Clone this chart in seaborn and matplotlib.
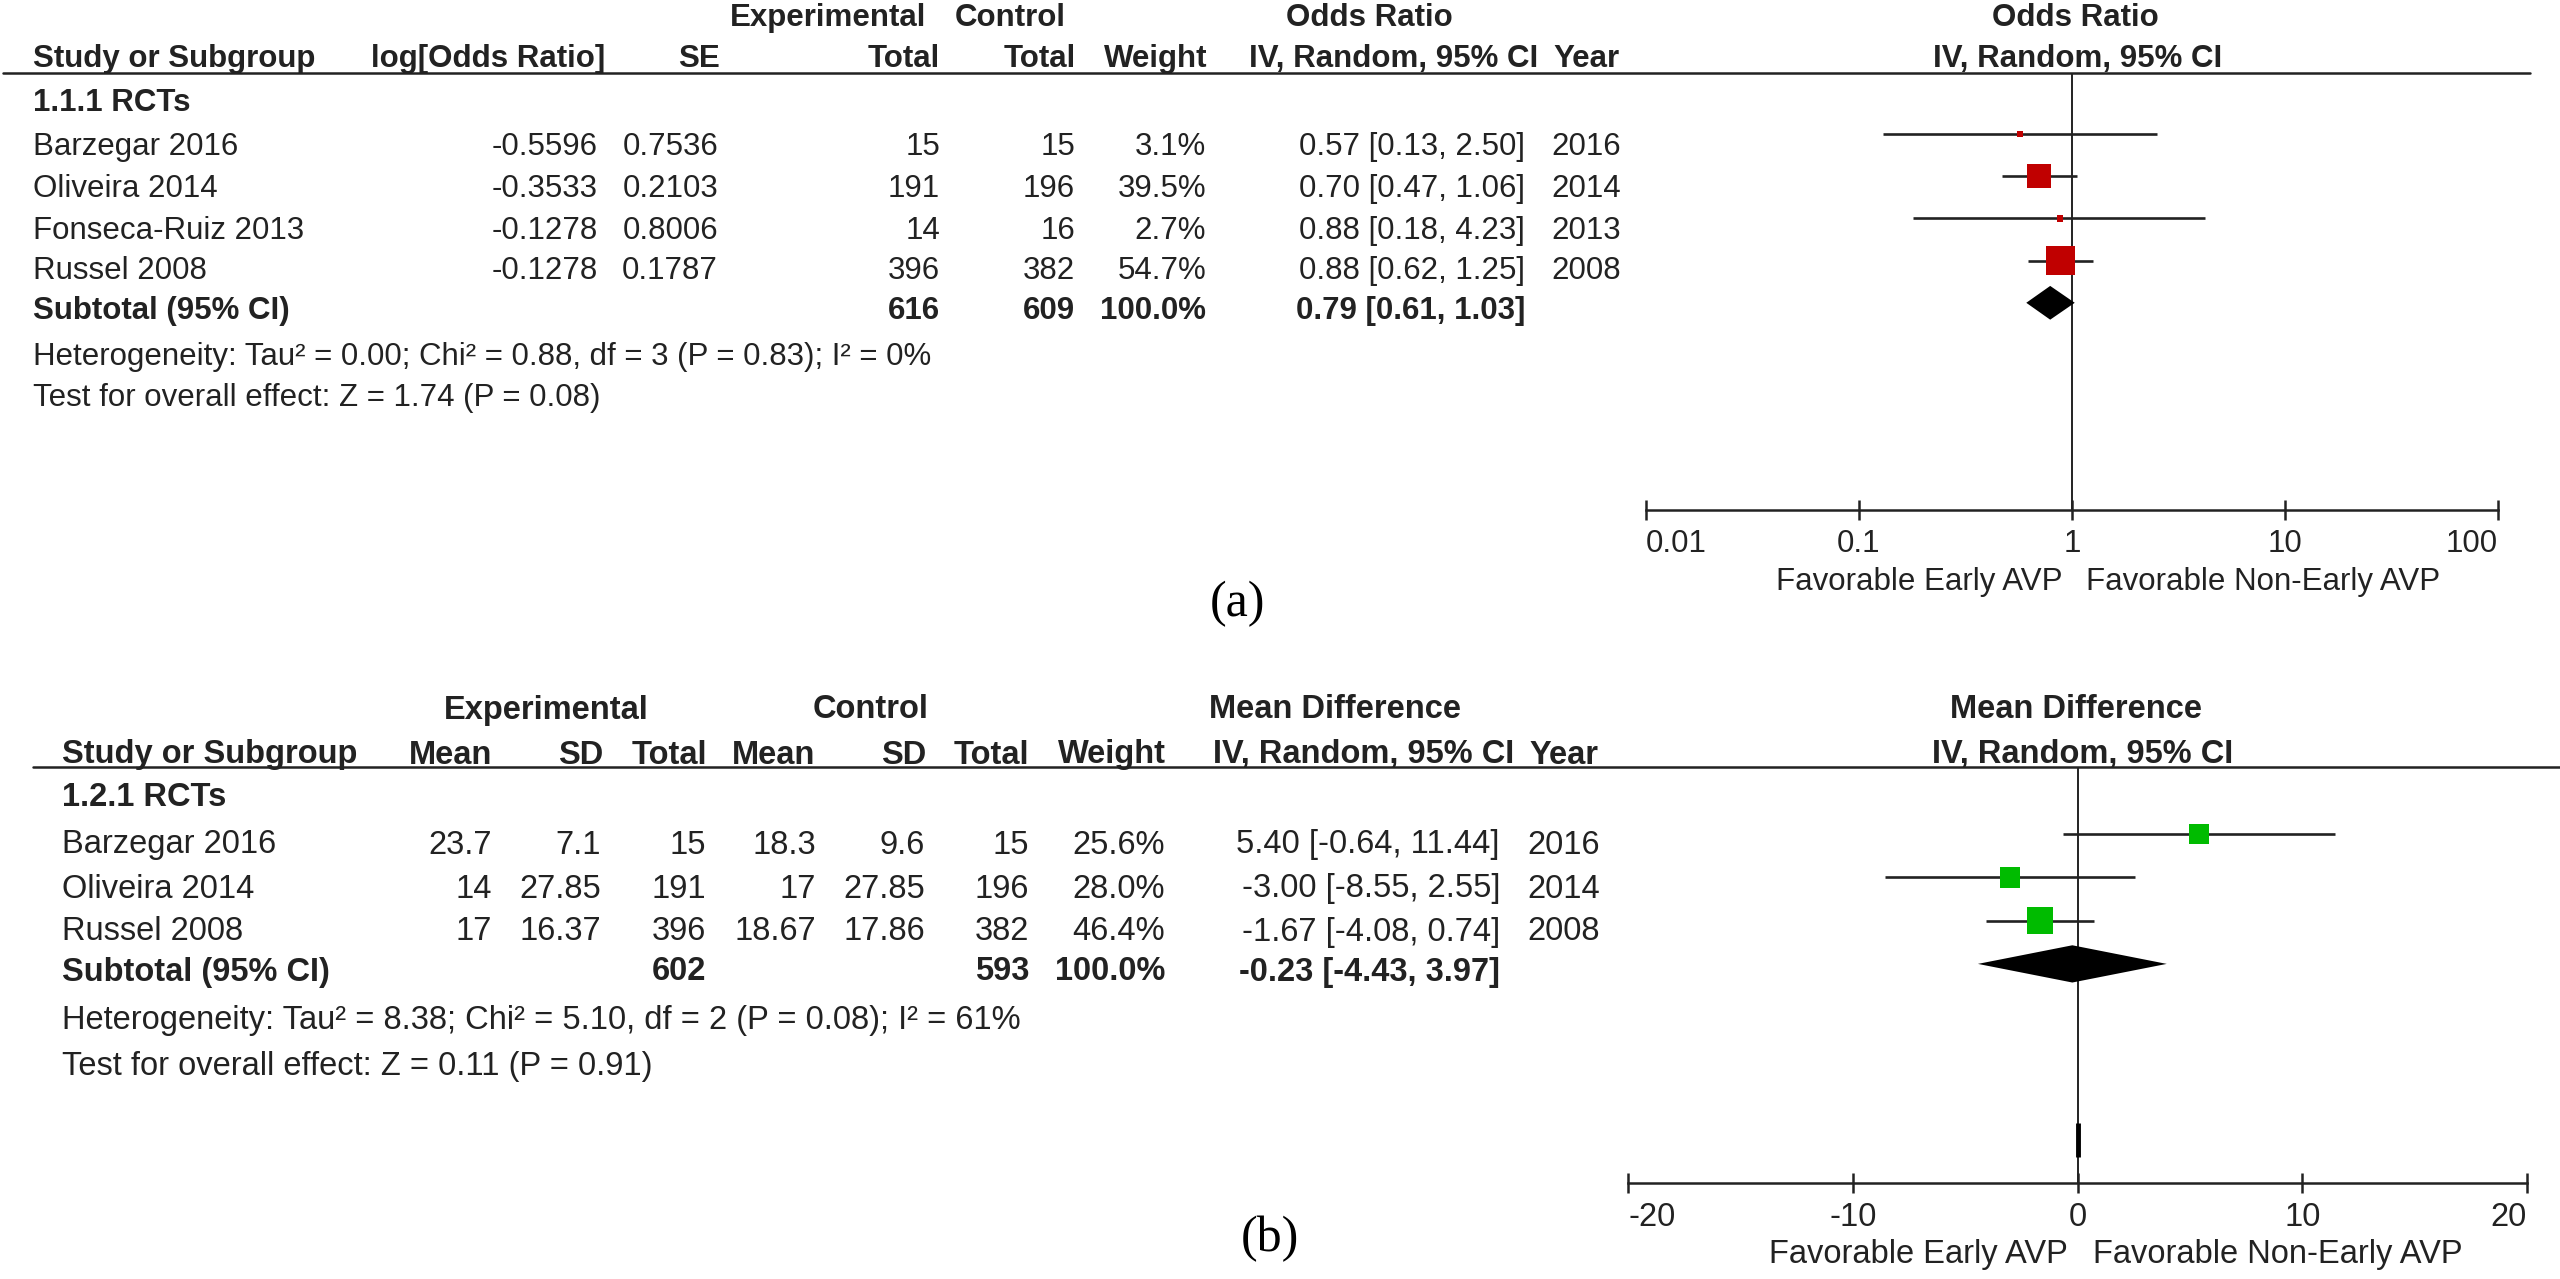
import numpy as np
import matplotlib
matplotlib.use("Agg")
import matplotlib.pyplot as plt
from matplotlib.ticker import NullLocator
import seaborn as sns

# === data: panel (a) odds ratio ===
studies_a = ["Barzegar 2016", "Oliveira 2014", "Fonseca-Ruiz 2013", "Russel 2008"]
log_or_a = [-0.5596, -0.3533, -0.1278, -0.1278]
se_a = [0.7536, 0.2103, 0.8006, 0.1787]
exp_total_a = [15, 191, 14, 396]
ctrl_total_a = [15, 196, 16, 382]
weight_a = [3.1, 39.5, 2.7, 54.7]
or_a = [0.57, 0.70, 0.88, 0.88]
or_lo_a = [0.13, 0.47, 0.18, 0.62]
or_hi_a = [2.50, 1.06, 4.23, 1.25]
year_a = [2016, 2014, 2013, 2008]
sub_a = {"exp": 616, "ctrl": 609, "est": 0.79, "lo": 0.61, "hi": 1.03}
het_a = "Heterogeneity: Tau² = 0.00; Chi² = 0.88, df = 3 (P = 0.83); I² = 0%"
test_a = "Test for overall effect: Z = 1.74 (P = 0.08)"
ticks_a = [0.01, 0.1, 1, 10, 100]
ticklabels_a = ["0.01", "0.1", "1", "10", "100"]

# === data: panel (b) mean difference ===
studies_b = ["Barzegar 2016", "Oliveira 2014", "Russel 2008"]
exp_mean_b = [23.7, 14, 17]
exp_sd_b = [7.1, 27.85, 16.37]
exp_total_b = [15, 191, 396]
ctrl_mean_b = [18.3, 17, 18.67]
ctrl_sd_b = [9.6, 27.85, 17.86]
ctrl_total_b = [15, 196, 382]
weight_b = [25.6, 28.0, 46.4]
md_b = [5.40, -3.00, -1.67]
md_lo_b = [-0.64, -8.55, -4.08]
md_hi_b = [11.44, 2.55, 0.74]
year_b = [2016, 2014, 2008]
sub_b = {"exp": 602, "ctrl": 593, "est": -0.23, "lo": -4.43, "hi": 3.97}
het_b = "Heterogeneity: Tau² = 8.38; Chi² = 5.10, df = 2 (P = 0.08); I² = 61%"
test_b = "Test for overall effect: Z = 0.11 (P = 0.91)"
ticks_b = [-20, -10, 0, 10, 20]
ticklabels_b = ["-20", "-10", "0", "10", "20"]

left_lab = "Favorable Early AVP"
right_lab = "Favorable Non-Early AVP"

# === style ===
sns.set_theme(style="white")
plt.rcParams["font.family"] = ["Liberation Sans", "DejaVu Sans"]
TXT = "#222222"
RED = "#c00000"
GREEN = "#00bb00"
W, H = 2560, 1279

fig = plt.figure(figsize=(W / 100, H / 100), dpi=100)
fig.patch.set_facecolor("white")

# overlay axes in pixel coordinates for the table text
tab = fig.add_axes([0, 0, 1, 1])
tab.set_xlim(0, W)
tab.set_ylim(H, 0)
tab.axis("off")


def put(x, y, s, ha="left", bold=False, size=22.5, **kw):
    tab.text(x, y, s, ha=ha, va="center", fontsize=size, color=TXT,
             fontweight="bold" if bold else "normal", **kw)


def ci_txt(e, lo, hi):
    return f"{e:.2f} [{lo:.2f}, {hi:.2f}]"


# ---------------- panel (a) table ----------------
fs = 22.5
put(828, 18, "Experimental", ha="center", bold=True, size=fs)
put(1010, 18, "Control", ha="center", bold=True, size=fs)
put(1369, 18, "Odds Ratio", ha="center", bold=True, size=fs)
put(2075, 18, "Odds Ratio", ha="center", bold=True, size=fs)
hdr_y = 59
put(33, hdr_y, "Study or Subgroup", bold=True, size=fs)
put(605, hdr_y, "log[Odds Ratio]", ha="right", bold=True, size=fs)
put(720, hdr_y, "SE", ha="right", bold=True, size=fs)
put(940, hdr_y, "Total", ha="right", bold=True, size=fs)
put(1076, hdr_y, "Total", ha="right", bold=True, size=fs)
put(1207, hdr_y, "Weight", ha="right", bold=True, size=fs)
put(1538, hdr_y, "IV, Random, 95% CI", ha="right", bold=True, size=fs)
put(1553, hdr_y, "Year", bold=True, size=fs)
put(2078, hdr_y, "IV, Random, 95% CI", ha="center", bold=True, size=fs)
tab.plot([3, 2530], [73, 73], color=TXT, lw=1.8)
put(33, 103, "1.1.1 RCTs", bold=True, size=fs)

rows_y_a = [147, 189, 231, 271]
for i, y in enumerate(rows_y_a):
    put(33, y, studies_a[i], size=fs)
    put(598, y, f"{log_or_a[i]:.4f}", ha="right", size=fs)
    put(718, y, f"{se_a[i]:.4f}", ha="right", size=fs)
    put(940, y, str(exp_total_a[i]), ha="right", size=fs)
    put(1075, y, str(ctrl_total_a[i]), ha="right", size=fs)
    put(1206, y, f"{weight_a[i]:.1f}%", ha="right", size=fs)
    put(1525, y, ci_txt(or_a[i], or_lo_a[i], or_hi_a[i]), ha="right", size=fs)
    put(1551, y, str(year_a[i]), size=fs)
put(33, 311, "Subtotal (95% CI)", bold=True, size=fs)
put(940, 311, str(sub_a["exp"]), ha="right", bold=True, size=fs)
put(1075, 311, str(sub_a["ctrl"]), ha="right", bold=True, size=fs)
put(1206, 311, f"{sum(weight_a):.1f}%", ha="right", bold=True, size=fs)
put(1525, 311, ci_txt(sub_a["est"], sub_a["lo"], sub_a["hi"]), ha="right", bold=True, size=fs)
put(33, 357, het_a, size=fs)
put(33, 398, test_a, size=fs)
put(2063, 582, left_lab, ha="right", size=fs)
put(2086, 582, right_lab, size=fs)
tab.text(1237, 604, "(a)", ha="center", va="center", fontsize=36,
         family=["Liberation Serif", "DejaVu Serif"], color="black")

# ---------------- panel (b) table ----------------
fb = 23.5
put(546, 710, "Experimental", ha="center", bold=True, size=fb)
put(871, 710, "Control", ha="center", bold=True, size=fb)
put(1209, 710, "Mean Difference", bold=True, size=fb)
put(2076, 710, "Mean Difference", ha="center", bold=True, size=fb)
hb = 755
put(62, hb, "Study or Subgroup", bold=True, size=fb)
put(492, hb, "Mean", ha="right", bold=True, size=fb)
put(603, hb, "SD", ha="right", bold=True, size=fb)
put(707, hb, "Total", ha="right", bold=True, size=fb)
put(815, hb, "Mean", ha="right", bold=True, size=fb)
put(926, hb, "SD", ha="right", bold=True, size=fb)
put(1029, hb, "Total", ha="right", bold=True, size=fb)
put(1166, hb, "Weight", ha="right", bold=True, size=fb)
put(1514, hb, "IV, Random, 95% CI", ha="right", bold=True, size=fb)
put(1530, hb, "Year", bold=True, size=fb)
put(2083, hb, "IV, Random, 95% CI", ha="center", bold=True, size=fb)
tab.plot([33, 2560], [767, 767], color=TXT, lw=1.8)
put(62, 797, "1.2.1 RCTs", bold=True, size=fb)

rows_y_b = [845, 889, 932]
for i, y in enumerate(rows_y_b):
    put(62, y, studies_b[i], size=fb)
    put(492, y, f"{exp_mean_b[i]:g}", ha="right", size=fb)
    put(601, y, f"{exp_sd_b[i]:g}", ha="right", size=fb)
    put(706, y, str(exp_total_b[i]), ha="right", size=fb)
    put(816, y, f"{ctrl_mean_b[i]:g}", ha="right", size=fb)
    put(925, y, f"{ctrl_sd_b[i]:g}", ha="right", size=fb)
    put(1029, y, str(ctrl_total_b[i]), ha="right", size=fb)
    put(1165, y, f"{weight_b[i]:.1f}%", ha="right", size=fb)
    put(1500, y, ci_txt(md_b[i], md_lo_b[i], md_hi_b[i]), ha="right", size=fb)
    put(1527, y, str(year_b[i]), size=fb)
put(62, 972, "Subtotal (95% CI)", bold=True, size=fb)
put(706, 972, str(sub_b["exp"]), ha="right", bold=True, size=fb)
put(1029, 972, str(sub_b["ctrl"]), ha="right", bold=True, size=fb)
put(1165, 972, f"{sum(weight_b):.1f}%", ha="right", bold=True, size=fb)
put(1500, 972, ci_txt(sub_b["est"], sub_b["lo"], sub_b["hi"]), ha="right", bold=True, size=fb)
put(62, 1021, het_b, size=fb)
put(62, 1066, test_b, size=fb)
put(2068, 1255, left_lab, ha="right", size=fb)
put(2093, 1255, right_lab, size=fb)
tab.text(1270, 1239, "(b)", ha="center", va="center", fontsize=36,
         family=["Liberation Serif", "DejaVu Serif"], color="black")


# ---------------- forest axes ----------------
def forest_axes(x0, x1, ytop, ybot, row0, step):
    ax = fig.add_axes([x0 / W, 1 - ybot / H, (x1 - x0) / W, (ybot - ytop) / H])
    ax.set_facecolor("none")
    ax.set_ylim((ybot - row0) / step, (ytop - row0) / step)
    for s in ["left", "right", "top"]:
        ax.spines[s].set_visible(False)
    ax.spines["bottom"].set_color(TXT)
    ax.spines["bottom"].set_linewidth(1.8)
    ax.set_yticks([])
    ax.tick_params(axis="x", direction="inout", length=15, width=1.8,
                   color=TXT, pad=6, labelsize=fs, labelcolor=TXT, bottom=True)
    return ax


def draw_forest(ax, est, lo, hi, wts, sub, color, diamond_h, logx):
    rows = np.arange(len(est))
    ax.hlines(rows, lo, hi, color=TXT, lw=1.9, zorder=2)
    sns.scatterplot(x=est, y=rows, s=np.array(wts) * 7.9, marker="s",
                    color=color, linewidth=0, ax=ax, zorder=3, legend=False)
    yd = len(est)
    ax.fill([sub["lo"], sub["est"], sub["hi"], sub["est"]],
            [yd, yd - diamond_h, yd, yd + diamond_h], color="black", lw=0, zorder=3)


# panel (a): log scale 0.01..100
ax_a = forest_axes(1646, 2498, 73, 510, 134, 42.2)
ax_a.set_xscale("log")
ax_a.set_xlim(ticks_a[0], ticks_a[-1])
ax_a.axvline(1, color=TXT, lw=1.4, zorder=1)
draw_forest(ax_a, or_a, or_lo_a, or_hi_a, weight_a, sub_a, RED, 0.4, True)
ax_a.set_xticks(ticks_a)
ax_a.set_xticklabels(ticklabels_a)
ax_a.xaxis.set_minor_locator(NullLocator())
ax_a.set_xlabel("")
ax_a.set_ylabel("")
ax_a.set_ylim((510 - 134) / 42.2, (73 - 134) / 42.2)

# panel (b): linear -20..20
ax_b = forest_axes(1628, 2527, 767, 1183, 834, 43.3)
ax_b.set_xlim(ticks_b[0], ticks_b[-1])
ax_b.axvline(0, color=TXT, lw=1.4, zorder=1)
draw_forest(ax_b, md_b, md_lo_b, md_hi_b, weight_b, sub_b, GREEN, 0.43, False)
ax_b.plot([0, 0], [6.67, 7.46], color="black", lw=3.5, solid_capstyle="butt", zorder=2)
ax_b.set_xticks(ticks_b)
ax_b.set_xticklabels(ticklabels_b)
ax_b.tick_params(axis="x", labelsize=fb)
ax_b.set_xlabel("")
ax_b.set_ylabel("")
ax_b.set_ylim((1183 - 834) / 43.3, (767 - 834) / 43.3)

for ax in (ax_a, ax_b):
    ticks = ax.xaxis.get_major_ticks()
    ticks[0].label1.set_horizontalalignment("left")
    ticks[-1].label1.set_horizontalalignment("right")

fig.savefig("out.png", dpi=100, facecolor="white")
